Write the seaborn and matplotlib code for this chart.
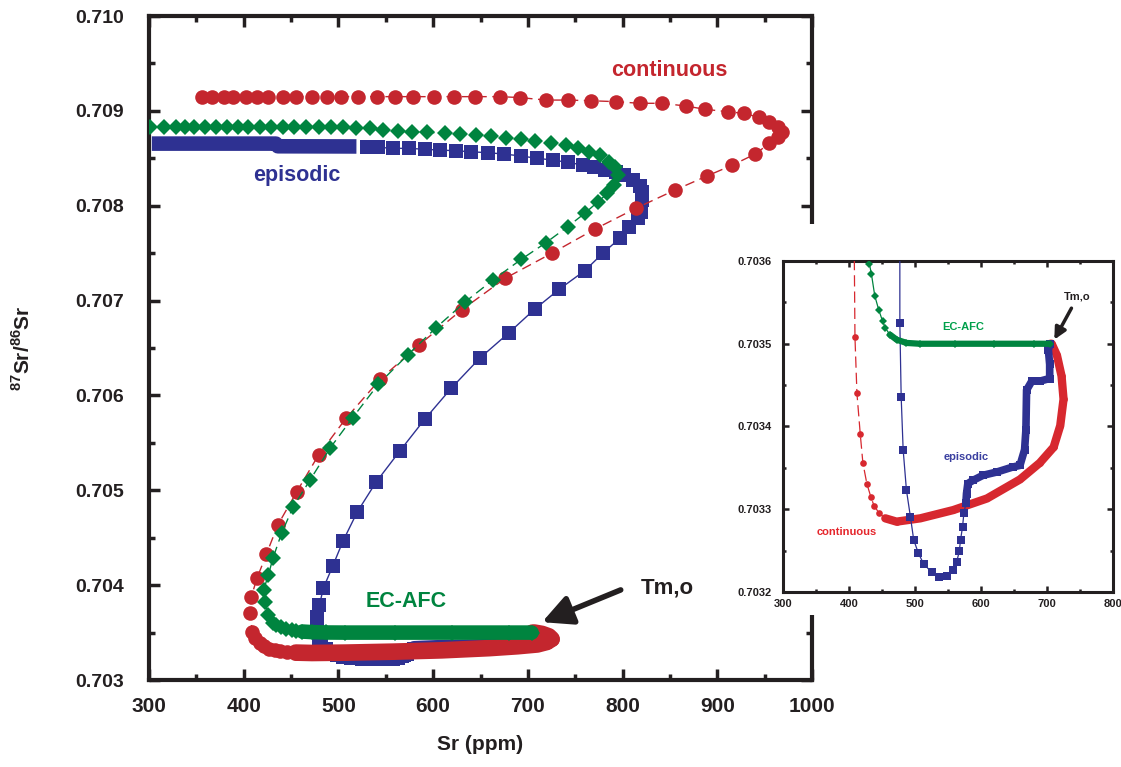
import matplotlib
matplotlib.use('Agg')
import matplotlib.pyplot as plt
import seaborn as sns
from matplotlib.patches import Rectangle
from matplotlib.ticker import MultipleLocator, FormatStrFormatter

sns.set_theme(style='ticks')
plt.rcParams['font.family'] = ['Liberation Sans', 'DejaVu Sans']
plt.rcParams['font.weight'] = 'bold'
plt.rcParams['mathtext.fontset'] = 'custom'
plt.rcParams['mathtext.rm'] = 'Liberation Sans:bold'
plt.rcParams['mathtext.bf'] = 'Liberation Sans:bold'

RED = '#C4262E'
GREEN = '#00843F'
BLUE = '#2E3192'
INK = '#231F20'

# continuous recharge (sparse part of the path)
red_sr = [356, 367, 379, 389, 402, 414, 426, 442, 455, 472, 488, 503, 521, 541, 560, 579, 601, 622, 644, 671, 692,
          719, 742, 767, 793, 818, 842, 867, 887, 911, 928, 944, 955, 964, 968,
          964, 955, 940, 916, 889, 855,
          814, 771, 725, 676, 630, 585, 544, 508, 479, 456, 436, 424, 414, 408, 407,
          409, 412, 417, 421, 427, 433, 438, 446, 455]
red_ratio = [0.70915] * 20 + [0.70914,
             0.709114, 0.709114, 0.709107, 0.709097, 0.70908, 0.70908, 0.709051, 0.709017, 0.708991, 0.708974,
             0.708932, 0.708886, 0.708833, 0.70878,
             0.708728, 0.708658, 0.708545, 0.708429, 0.708313, 0.708164,
             0.707973, 0.707755, 0.707498, 0.707235, 0.706901, 0.706532, 0.70617, 0.705759, 0.705372, 0.704985,
             0.704634, 0.704328, 0.704072, 0.703878, 0.703703,
             0.703508, 0.70344, 0.703391, 0.703356, 0.703331, 0.703315, 0.703304, 0.703295, 0.703289]
# dense part near Tm,o
red_tail_sr = [472, 508, 558, 609, 659, 689, 710, 720, 725, 722, 715, 707, 705]
red_tail_ratio = [0.703285, 0.703289, 0.703299, 0.703313, 0.703336, 0.703356, 0.703375, 0.703401,
                  0.703433, 0.703461, 0.703486, 0.7035, 0.7035]

# episodic recharge
blue_bar_sr = [303, 434, 436, 519]
blue_bar_ratio = [0.708655, 0.708655, 0.708627, 0.708625]
blue_sr = [530, 542, 558, 575, 591, 607, 624, 640, 658, 675,
           693, 710, 726, 742, 758, 770, 781, 793, 802, 811,
           818, 821, 821, 819, 816, 807, 797, 779, 760, 733,
           707, 680, 649, 619, 591, 565, 540, 520, 505, 494,
           484, 480, 477, 477, 479, 482, 487, 493, 498, 505,
           513, 525, 537, 548, 558, 563, 567, 569, 572, 574, 577]
blue_ratio = [0.708622, 0.708616, 0.708605, 0.708605, 0.708595, 0.708587, 0.70858, 0.708569, 0.708559, 0.708545,
              0.708524, 0.7085, 0.708482, 0.708458, 0.708429, 0.708411, 0.708377, 0.708359, 0.708324, 0.708271,
              0.708208, 0.708148, 0.708061, 0.707937, 0.707867, 0.707779, 0.707657, 0.707498, 0.707315, 0.707119,
              0.706908, 0.706661, 0.706391, 0.706075, 0.705748, 0.705417, 0.70509, 0.704774, 0.704469, 0.704202,
              0.703967, 0.703791, 0.703667, 0.703525, 0.703436, 0.703372, 0.703323, 0.703291, 0.703263, 0.703247,
              0.703234, 0.703224, 0.703218, 0.703219, 0.703226, 0.703236, 0.703249, 0.703263, 0.703279, 0.703295,
              0.703307]
blue_tail_sr = [578, 580, 588, 603, 624, 648, 659, 666, 668, 669, 677, 690, 704, 704, 702, 705]
blue_tail_ratio = [0.703319, 0.703331, 0.703335, 0.703341, 0.703345, 0.703351, 0.703353, 0.703372,
                   0.703396, 0.703444, 0.703455, 0.703455, 0.703458, 0.703475, 0.703493, 0.7035]

# EC-AFC
green_sr = [301, 316, 328, 338, 347, 359, 371, 382, 394, 405, 417, 429, 441, 453, 466, 479, 492,
            505, 519, 533, 547, 563, 578, 594, 612, 628, 645, 661, 677, 693,
            708, 724, 740, 753, 765, 776, 786, 792, 795, 791,
            784, 774, 760, 742, 719, 693, 663, 634, 603, 573,
            542, 515, 491, 470, 452, 440, 431, 426, 421, 422,
            426, 431, 434, 439, 445, 451, 455, 462]
green_ratio = [0.708833] * 17 + [0.708826, 0.708822, 0.708815,
               0.708798, 0.708791, 0.70878, 0.708774, 0.708763, 0.708756, 0.708745, 0.708738, 0.708711, 0.7087,
               0.708685, 0.708658, 0.70864, 0.708605, 0.70857, 0.708535, 0.708464, 0.708411, 0.708324, 0.708218,
               0.70813, 0.708042, 0.70792, 0.707779, 0.70761, 0.707435, 0.707217, 0.706988, 0.706714, 0.706426,
               0.706117, 0.705765, 0.705443, 0.705108, 0.704821, 0.704547, 0.704289, 0.704107, 0.703949, 0.703825,
               0.703685, 0.703596, 0.703584, 0.703558, 0.703541, 0.703527, 0.703519, 0.703511]
green_tail_sr = [472, 487, 507, 560, 620, 680, 704]
green_tail_ratio = [0.703505, 0.703501, 0.7035, 0.7035, 0.7035, 0.7035, 0.7035]


def curve(ax, xs, ys, color, ls, lw, marker, ms, z):
    sns.lineplot(x=xs, y=ys, sort=False, estimator=None, ax=ax, color=color, lw=lw, ls=ls,
                 marker=marker, ms=ms, mec=color, mfc=color, mew=0, zorder=z)


def band(ax, xs, ys, color, lw, z, cap='round'):
    sns.lineplot(x=xs, y=ys, sort=False, estimator=None, ax=ax, color=color, lw=lw,
                 solid_capstyle=cap, zorder=z)


def style_axes(ax, spine_w, maj, mnr, tw):
    for s in ax.spines.values():
        s.set_linewidth(spine_w)
        s.set_color(INK)
        s.set_visible(True)
    ax.tick_params(which='both', direction='in', top=True, right=True, color=INK)
    ax.tick_params(which='major', length=maj, width=tw)
    ax.tick_params(which='minor', length=mnr, width=tw)
    ax.grid(False)


fig = plt.figure(figsize=(11.21, 7.67), dpi=100)
ax = fig.add_axes([0.1329, 0.1134, 0.5915, 0.8657])
ax.set_zorder(0)

# main panel
curve(ax, blue_sr + blue_tail_sr, blue_ratio + blue_tail_ratio, BLUE, '-', 1.0, 's', 10.5, 3)
band(ax, blue_bar_sr, blue_bar_ratio, BLUE, 10.5, 3, cap='butt')
band(ax, [blue_sr[-1]] + blue_tail_sr, [blue_ratio[-1]] + blue_tail_ratio, BLUE, 11, 3)
curve(ax, red_sr + red_tail_sr, red_ratio + red_tail_ratio, RED, (0, (7, 4)), 1.0, 'o', 10.5, 4)
band(ax, [red_sr[-1]] + red_tail_sr, [red_ratio[-1]] + red_tail_ratio, RED, 12, 4)
curve(ax, green_sr + green_tail_sr, green_ratio + green_tail_ratio, GREEN, (0, (7, 4)), 1.0, 'D', 8.2, 5)
band(ax, [green_sr[-1]] + green_tail_sr, [green_ratio[-1]] + green_tail_ratio, GREEN, 10.5, 5)

ax.set_xlim(300, 1000)
ax.set_ylim(0.703, 0.710)
ax.xaxis.set_major_locator(MultipleLocator(100))
ax.xaxis.set_minor_locator(MultipleLocator(50))
ax.yaxis.set_major_locator(MultipleLocator(0.001))
ax.yaxis.set_minor_locator(MultipleLocator(0.0005))
ax.yaxis.set_major_formatter(FormatStrFormatter('%.3f'))
style_axes(ax, 3, 8, 4, 2.5)
ax.tick_params(axis='x', labelsize=15, pad=12, labelcolor=INK)
ax.tick_params(axis='y', labelsize=14, pad=18, labelcolor=INK)
for t in ax.get_xticklabels() + ax.get_yticklabels():
    t.set_fontweight('bold')
ax.set_xlabel('Sr (ppm)', fontsize=15, fontweight='bold', color=INK)
ax.set_ylabel(r'$^{87}$Sr/$^{86}$Sr', fontsize=15, fontweight='bold', color=INK)
ax.xaxis.set_label_coords(0.5, -0.083)
ax.yaxis.set_label_coords(-0.173, 0.5)

ax.text(849, 0.70943, 'continuous', color=RED, fontsize=15.5, fontweight='bold', ha='center', va='center')
ax.text(456, 0.70832, 'episodic', color=BLUE, fontsize=15.5, fontweight='bold', ha='center', va='center')
ax.text(572, 0.70383, 'EC-AFC', color=GREEN, fontsize=15.5, fontweight='bold', ha='center', va='center')
ax.text(847, 0.70397, 'Tm,o', color=INK, fontsize=16, fontweight='bold', ha='center', va='center')
ax.annotate('', xy=(715, 0.70361), xytext=(798, 0.70395),
            arrowprops=dict(arrowstyle='-|>,head_length=0.9,head_width=0.45', lw=4, color=INK,
                            mutation_scale=20, shrinkA=0, shrinkB=0))

# white box under the inset
fig.add_artist(Rectangle((0.655, 0.198), 0.345, 0.51, transform=fig.transFigure,
                         facecolor='white', edgecolor='none', zorder=1))

# inset
ins = fig.add_axes([0.6985, 0.2282, 0.2944, 0.4315])
ins.set_zorder(2)
ins.set_facecolor('white')
curve(ins, red_sr + red_tail_sr, red_ratio + red_tail_ratio, '#D7282F', (0, (9, 4)), 0.9, 'o', 4.8, 3)
band(ins, [red_sr[-1]] + red_tail_sr, [red_ratio[-1]] + red_tail_ratio, '#D7282F', 6, 3)
curve(ins, blue_sr + blue_tail_sr, blue_ratio + blue_tail_ratio, BLUE, '-', 0.9, 's', 5.5, 4)
band(ins, [blue_sr[-1]] + blue_tail_sr, [blue_ratio[-1]] + blue_tail_ratio, BLUE, 5.5, 4)
curve(ins, green_sr + green_tail_sr, green_ratio + green_tail_ratio, GREEN, '-', 0.9, 'D', 4.5, 5)
band(ins, [green_sr[-1]] + green_tail_sr, [green_ratio[-1]] + green_tail_ratio, GREEN, 4.5, 5)

ins.set_xlim(300, 800)
ins.set_ylim(0.7032, 0.7036)
ins.xaxis.set_major_locator(MultipleLocator(100))
ins.xaxis.set_minor_locator(MultipleLocator(50))
ins.yaxis.set_major_locator(MultipleLocator(0.0001))
ins.yaxis.set_minor_locator(MultipleLocator(0.00005))
ins.yaxis.set_major_formatter(FormatStrFormatter('%.4f'))
style_axes(ins, 2.2, 4, 2, 1.8)
ins.tick_params(labelsize=8, labelcolor=INK)
ins.tick_params(axis='y', pad=8)
ins.tick_params(axis='x', pad=5)
for t in ins.get_xticklabels() + ins.get_yticklabels():
    t.set_fontweight('bold')
ins.set_xlabel('')
ins.set_ylabel('')

ins.text(573, 0.70352, 'EC-AFC', color='#00A04B', fontsize=8, fontweight='bold', ha='center', va='center')
ins.text(577, 0.703363, 'episodic', color='#3A3FA0', fontsize=8, fontweight='bold', ha='center', va='center')
ins.text(396, 0.703273, 'continuous', color='#E5262C', fontsize=8, fontweight='bold', ha='center', va='center')
ins.text(745, 0.703557, 'Tm,o', color=INK, fontsize=8, fontweight='bold', ha='center', va='center')
ins.annotate('', xy=(711, 0.703505), xytext=(737, 0.703543),
             arrowprops=dict(arrowstyle='-|>,head_length=0.7,head_width=0.35', lw=2.5, color=INK,
                             mutation_scale=10, shrinkA=0, shrinkB=0))

fig.savefig('out.png', dpi=100)
